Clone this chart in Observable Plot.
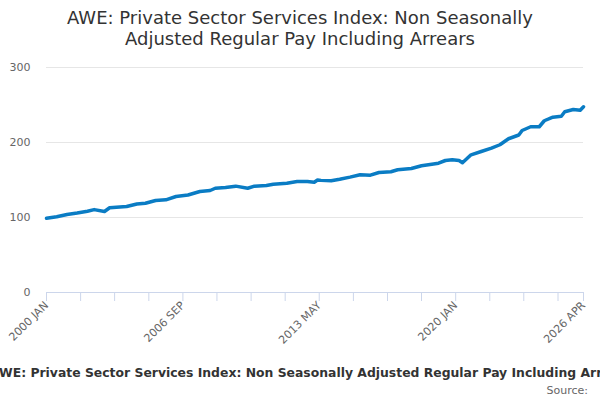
<!DOCTYPE html>
<html>
<head>
<meta charset="utf-8">
<script src="https://cdn.jsdelivr.net/npm/d3@7"></script>
<script src="https://cdn.jsdelivr.net/npm/@observablehq/plot@0.6"></script>
<style>
  html, body { margin: 0; padding: 0; background: #fff; }
  #wrap { position: relative; width: 600px; height: 400px; overflow: hidden; font-family: "DejaVu Sans", sans-serif; }
  #title { position: absolute; top: 7px; left: 0; width: 600px; text-align: center; font-size: 18px; line-height: 21px; color: #333; }
  #chart { position: absolute; top: 0; left: 0; }
  #caption { position: absolute; top: 366px; left: -10px; white-space: nowrap; font-size: 12.4px; font-weight: bold; color: #333; line-height: 14px; }
  #source { position: absolute; top: 384px; right: 12px; font-size: 11px; color: #666; line-height: 13px; }
</style>
</head>
<body>
<div id="wrap">
  <div id="title">AWE: Private Sector Services Index: Non Seasonally<br>Adjusted Regular Pay Including Arrears</div>
  <div id="chart"></div>
  <div id="caption">AWE: Private Sector Services Index: Non Seasonally Adjusted Regular Pay Including Arrears</div>
  <div id="source">Source:</div>
</div>
<script>
const months = ["2000-01","2000-07","2001-01","2001-07","2002-01","2002-05","2002-11","2003-02","2003-12","2004-06","2004-11","2005-05","2005-11","2006-05","2006-12","2007-07","2008-01","2008-04","2008-10","2009-04","2009-11","2010-03","2010-10","2011-02","2011-10","2012-04","2012-10","2013-02","2013-04","2013-06","2013-12","2014-05","2014-11","2015-05","2015-11","2016-04","2016-11","2017-03","2017-11","2018-05","2018-11","2019-03","2019-07","2019-11","2020-03","2020-05","2020-10","2021-04","2021-10","2022-03","2022-08","2023-02","2023-04","2023-09","2024-02","2024-05","2024-10","2025-03","2025-05","2025-10","2026-02","2026-04"];
const values = [99,101,104,106,108.4,110.5,108,113,114.7,118,119,122.7,123.6,128,130,134.7,136,139,140,141.8,139,141.8,142.7,144.4,145.8,148,148,147,150,149.5,149,151,153.8,157,156.4,160,161,163.6,165.3,169,171,172.4,176,177,176,173,183.6,188,192.4,197,205,210,216,221,221,229,233.8,235,241,244,243,247.6];
const tickMonths = ["2000-01","2001-09","2003-05","2005-01","2006-09","2008-05","2010-01","2011-09","2013-05","2015-01","2016-09","2018-05","2020-01","2021-09","2023-05","2025-01","2026-04"];
const labelMonths = ["2000-01","2006-09","2013-05","2020-01","2026-04"];
const tickLabels = ["2000 JAN","2006 SEP","2013 MAY","2020 JAN","2026 APR"];
const yTicks = [0,100,200,300];
const gridValues = [100,200,300];

const parse = d3.utcParse("%Y-%m");
const data = months.map((m, i) => ({date: parse(m), value: values[i]}));
const ticks = tickMonths.map(parse);
const labelMap = new Map(labelMonths.map((m, i) => [+parse(m), tickLabels[i]]));

const chart = Plot.plot({
  width: 600,
  height: 400,
  marginTop: 67,
  marginBottom: 108,
  marginLeft: 46,
  marginRight: 17,
  style: {fontFamily: "DejaVu Sans, sans-serif", fontSize: "11px", background: "transparent"},
  x: {type: "utc", domain: [parse("2000-01"), parse("2026-04")]},
  y: {domain: [0, 300]},
  marks: [
    Plot.gridY(gridValues, {stroke: "#e6e6e6", strokeOpacity: 1}),
    Plot.axisY(yTicks, {tickSize: 0, tickPadding: 16, fill: "#666", label: null, fontSize: 11}),
    Plot.axisX(ticks, {
      tickSize: 9,
      stroke: "#ccd6eb",
      strokeOpacity: 1,
      fill: "#666",
      tickRotate: -45,
      tickPadding: 2,
      label: null,
      fontSize: 11,
      tickFormat: d => labelMap.get(+d) || ""
    }),
    Plot.ruleY([0], {stroke: "#ccd6eb"}),
    Plot.line(data, {x: "date", y: "value", stroke: "#0a7cc4", strokeWidth: 3.5, curve: "linear"})
  ]
});
document.getElementById("chart").appendChild(chart);
</script>
</body>
</html>
